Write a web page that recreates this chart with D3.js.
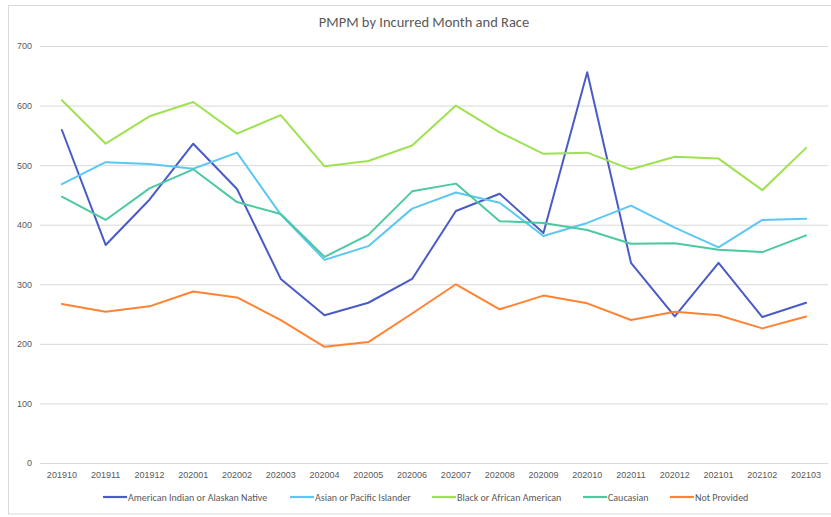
<!DOCTYPE html>
<html><head><meta charset="utf-8">
<script src="https://cdn.jsdelivr.net/npm/d3@7"></script>
<style>body{margin:0;background:#fff;} svg{display:block;font-family:Carlito,"Liberation Sans Narrow","Open Sans",sans-serif;}</style>
</head><body><svg id="c" width="831" height="517"></svg>
<script>
const months = ["201910","201911","201912","202001","202002","202003","202004","202005","202006","202007","202008","202009","202010","202011","202012","202101","202102","202103"];
const seriesNames = ["American Indian or Alaskan Native","Asian or Pacific Islander","Black or African American","Caucasian","Not Provided"];
const colors = ["#4A5BC6","#5BC8F3","#9FE24F","#4CC9A1","#FF8332"];
const americanIndian = [559,366,442,536,460,309,248,269,309,423,452,386,656,336,246,336,245,269];
const asian = [468,505,502,494,521,417,341,364,427,454,437,381,403,432,395,362,408,410];
const black = [609,536,582,606,553,584,498,507,533,600,555,519,521,493,514,511,458,529];
const caucasian = [447,408,461,493,438,418,346,383,456,469,406,403,391,368,369,358,354,382];
const notProvided = [267,254,263,288,278,240,195,203,251,300,258,281,268,240,254,248,226,246];
const yTicks = [0,100,200,300,400,500,600,700];
const allSeries = [americanIndian, asian, black, caucasian, notProvided];

(function(){
const svg = d3.select("#c");
svg.append("rect").attr("x",8.5).attr("y",5.5).attr("width",830).attr("height",508.5)
  .attr("fill","#fff").attr("stroke","#D9D9D9").attr("stroke-width",1);

const mLeft=40, mRight=828, mTop=46, mBottom=463;
const x = d3.scaleBand().domain(months).range([mLeft,mRight]);
const y = d3.scaleLinear().domain([0,700]).range([mBottom,mTop]);

svg.append("text").attr("x",424).attr("y",27).attr("text-anchor","middle")
  .attr("font-size",14.5).attr("fill","#595959").text("PMPM by Incurred Month and Race");

const yAxis = svg.append("g").attr("transform",`translate(${mLeft},0)`)
  .call(d3.axisLeft(y).tickValues(yTicks).tickSize(-(mRight-mLeft)).tickPadding(8));
yAxis.select(".domain").remove();
yAxis.selectAll("line").attr("stroke","#D9D9D9");
yAxis.selectAll("text").attr("fill","#595959").attr("font-size",9).attr("font-family",null);

const xAxis = svg.append("g").attr("transform",`translate(0,${mBottom})`)
  .call(d3.axisBottom(x).tickSize(0).tickPadding(9));
xAxis.select(".domain").attr("stroke","#D9D9D9");
xAxis.selectAll("text").attr("fill","#595959").attr("font-size",9).attr("font-family",null);

const line = d3.line().x((d,i)=>x(months[i])+x.bandwidth()/2).y(d=>y(d));
allSeries.forEach((s,k)=>{
  svg.append("path").datum(s).attr("d",line).attr("fill","none")
    .attr("stroke",colors[k]).attr("stroke-width",2).attr("stroke-linejoin","round").attr("stroke-linecap","round");
});

const legendX = [103,290,432,583,670];
const lg = svg.append("g");
seriesNames.forEach((n,k)=>{
  lg.append("line").attr("x1",legendX[k]).attr("x2",legendX[k]+24).attr("y1",497).attr("y2",497)
    .attr("stroke",colors[k]).attr("stroke-width",2.2);
  lg.append("text").attr("x",legendX[k]+25).attr("y",500.5).attr("font-size",10).attr("fill","#595959").text(n);
});
})();
</script></body></html>
